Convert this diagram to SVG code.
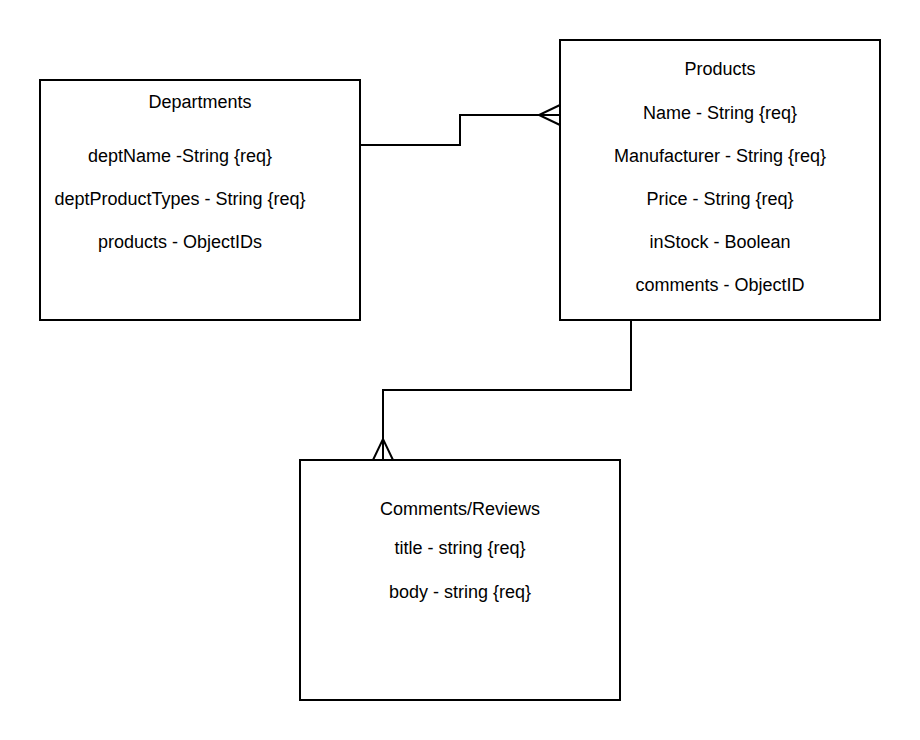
<svg xmlns="http://www.w3.org/2000/svg" width="920" height="740" viewBox="0 0 920 740">
<style>
.box{fill:#ffffff;stroke:#000000;stroke-width:2}
.t{font-family:"Liberation Sans",Arial,sans-serif;font-size:18px;fill:#000000;text-anchor:middle}
.c{fill:none;stroke:#000000;stroke-width:2}
</style>
<rect x="0" y="0" width="920" height="740" fill="#ffffff"/>
<g id="departments">
<rect class="box" x="40" y="80" width="320" height="240"/>
<text class="t" x="200" y="108">Departments</text>
<text class="t" x="180" y="162">deptName -String {req}</text>
<text class="t" x="180" y="205">deptProductTypes - String {req}</text>
<text class="t" x="180" y="248">products - ObjectIDs</text>
</g>
<g id="products">
<rect class="box" x="560" y="40" width="320" height="280"/>
<text class="t" x="720" y="75">Products</text>
<text class="t" x="720" y="119">Name - String {req}</text>
<text class="t" x="720" y="162">Manufacturer - String {req}</text>
<text class="t" x="720" y="205">Price - String {req}</text>
<text class="t" x="720" y="248">inStock - Boolean</text>
<text class="t" x="720" y="291">comments - ObjectID</text>
</g>
<g id="comments">
<rect class="box" x="300" y="460" width="320" height="240"/>
<text class="t" x="460" y="515">Comments/Reviews</text>
<text class="t" x="460" y="554">title - string {req}</text>
<text class="t" x="460" y="598">body - string {req}</text>
</g>
<g id="connectors">
<polyline class="c" points="360,145 460,145 460,115 560,115"/>
<polyline class="c" points="560,105 539,115 560,125"/>
<polyline class="c" points="631,320 631,390 383,390 383,460"/>
<polyline class="c" points="373,460 383,439 393,460"/>
</g>
</svg>
